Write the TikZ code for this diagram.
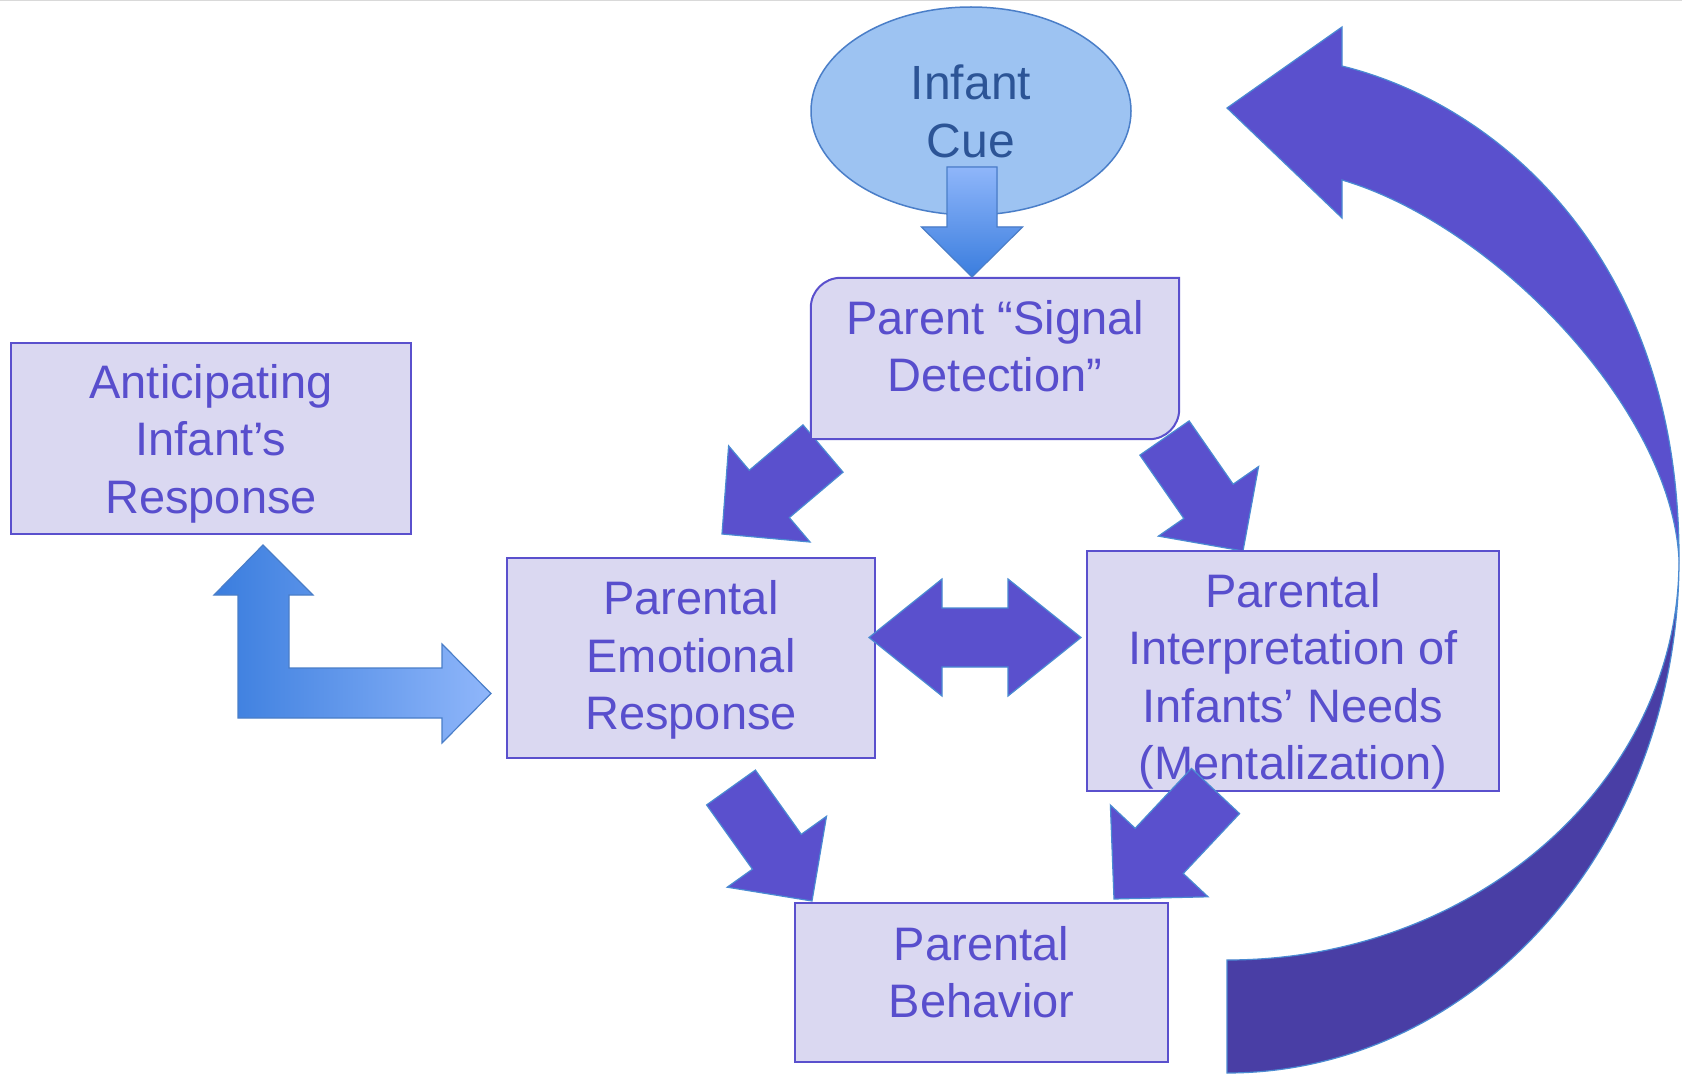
\documentclass[tikz,border=0pt]{standalone}
\usepackage{fontspec}
\setmainfont{Liberation Sans}
\usetikzlibrary{shapes.geometric,calc}
\definecolor{boxfill}{RGB}{218,216,241}
\definecolor{boxline}{RGB}{90,80,205}
\definecolor{txtpurple}{RGB}{88,78,205}
\definecolor{arrowfill}{RGB}{90,80,205}
\definecolor{arrowdark}{RGB}{73,62,165}
\definecolor{edgeblue}{RGB}{74,138,210}
\definecolor{cuefill}{RGB}{157,195,242}
\definecolor{cueline}{RGB}{74,126,200}
\definecolor{cuetext}{RGB}{44,84,150}
\definecolor{gdark}{RGB}{58,125,222}
\definecolor{glight}{RGB}{143,182,250}

% block arrow: [extra style]{id}{tail}{tip}{half shaft}{half head}{head length}
\newcommand{\blockarrow}[7][]{%
  \coordinate (#2-b) at ($(#4)!#7pt!(#3)$);
  \path[parrow,#1] ($(#3)!#5pt!90:(#4)$) -- ($(#2-b)!#5pt!90:(#4)$)
    -- ($(#2-b)!#6pt!90:(#4)$) -- (#4) -- ($(#2-b)!#6pt!-90:(#4)$)
    -- ($(#2-b)!#5pt!-90:(#4)$) -- ($(#3)!#5pt!-90:(#4)$) -- cycle;
}

\begin{document}
\begin{tikzpicture}[x=1pt,y=-1pt,
  box/.style={draw=boxline, line width=2pt, fill=boxfill, inner sep=0pt},
  parrow/.style={fill=arrowfill, draw=edgeblue, line width=1.2pt, line join=miter},
  txt/.style={font=\fontsize{47}{57.5}\selectfont, text=txtpurple, align=center, inner sep=0pt},
  cuetxt/.style={font=\fontsize{48}{57.5}\selectfont, text=cuetext, align=center, inner sep=0pt},
]
\useasboundingbox (0,0) rectangle (1682,1075);
\fill[white] (0,0) rectangle (1682,1075);
\draw[line width=1.5pt, black!15] (0,0.75) -- (1682,0.75);

% ---- big curved return arrow ----
\coordinate (loop-x) at (1679,560);
\coordinate (loop-tail) at (1227,1016);
\coordinate (loop-tip) at (1227,108);
\path[fill=arrowdark, draw=edgeblue, line width=1.2pt]
  (loop-x) .. controls (1679,843) and (1477,1073) .. (1227,1073)
  -- (1227,960) .. controls (1476.5,960) and (1679,780.8) .. (loop-x) -- cycle;
\path[parrow]
  (loop-tip) -- (1342,27) -- (1342,66)
  .. controls (1500,105) and (1680,260) .. (loop-x)
  .. controls (1672,410) and (1495,225) .. (1342,180)
  -- (1342,218) -- cycle;

% ---- Infant cue ----
\node[ellipse, draw=cueline, line width=1.5pt, fill=cuefill, minimum width=320pt, minimum height=208pt, inner sep=0pt] (cue) at (971,111) {};
\node[cuetxt] (cue-t) at (971,117.25) {\strut Infant\\\strut Cue};

% arrows from signal detection (behind the box)
\coordinate (a1-t) at (823,448.5);
\coordinate (a1-h) at (722,534);
\blockarrow{a1}{a1-t}{a1-h}{31}{63}{62}
\coordinate (a2-t) at (1164.5,438);
\coordinate (a2-h) at (1243,551);
\blockarrow{a2}{a2-t}{a2-h}{30}{61}{60.5}

% ---- Signal detection box (two rounded corners) ----
\node[minimum width=368pt, minimum height=161pt, inner sep=0pt] (signal) at (995,358.5) {};
\path[box] (signal.south west) -- ([yshift=-30pt]signal.north west)
  .. controls ([yshift=-13.4pt]signal.north west) and ([xshift=13.4pt]signal.north west) .. ([xshift=30pt]signal.north west)
  -- (signal.north east) -- ([yshift=30pt]signal.south east)
  .. controls ([yshift=13.4pt]signal.south east) and ([xshift=-13.4pt]signal.south east) .. ([xshift=-30pt]signal.south east)
  -- cycle;
\node[txt] (signal-t) at (995,351.25) {\strut Parent “Signal\\\strut Detection”};

% down arrow from cue
\coordinate (cuearrow-t) at (972,167);
\coordinate (cuearrow-h) at (972,277);
\blockarrow[shade, top color=glight, bottom color=gdark, draw=cueline]{cuearrow}{cuearrow-t}{cuearrow-h}{25}{50.5}{50}

% ---- boxes ----
\node[box, minimum width=400pt, minimum height=191pt] (antic) at (211,438.5) {};
\node[txt] (antic-t) at (211,444) {\strut Anticipating\\\strut Infant’s\\\strut Response};

\node[box, minimum width=368pt, minimum height=200pt] (emo) at (691,658) {};
\node[txt] (emo-t) at (691,660.75) {\strut Parental\\\strut Emotional\\\strut Response};

\node[box, minimum width=412pt, minimum height=240pt] (interp) at (1293,671) {};
\node[txt] (interp-t) at (1293,681.75) {\strut Parental\\\strut Interpretation of\\\strut Infants’ Needs\\\strut (Mentalization)};

\node[box, minimum width=373pt, minimum height=159pt] (behav) at (981.5,982.5) {};
\node[txt] (behav-t) at (981.5,977.25) {\strut Parental\\\strut Behavior};

% ---- arrows into behavior ----
\coordinate (a3-t) at (731,787.5);
\coordinate (a3-h) at (812,901);
\blockarrow{a3}{a3-t}{a3-h}{30}{61}{60.5}
\coordinate (a4-t) at (1215.5,791);
\coordinate (a4-h) at (1114,899);
\blockarrow{a4}{a4-t}{a4-h}{33}{67}{66}

% ---- double arrow between emotional response and interpretation ----
\coordinate (dbl-l) at (869,637.5);
\coordinate (dbl-r) at (1081,637.5);
\path[parrow] (dbl-l) -- (942,579) -- (942,608) -- (1008,608) -- (1008,579) -- (dbl-r)
  -- (1008,696) -- (1008,667) -- (942,667) -- (942,696) -- cycle;

% ---- bent two-way arrow (anticipating <-> emotional) ----
\coordinate (bent-up) at (263,545);
\coordinate (bent-right) at (491,693.5);
\path[shade, left color=gdark, right color=glight, draw=cueline, line width=1.2pt]
  (bent-up) -- (313,595) -- (289,595) -- (289,668) -- (442,668) -- (442,644) -- (bent-right)
  -- (442,743) -- (442,718) -- (238,718) -- (238,595) -- (214,595) -- cycle;
\end{tikzpicture}
\end{document}
